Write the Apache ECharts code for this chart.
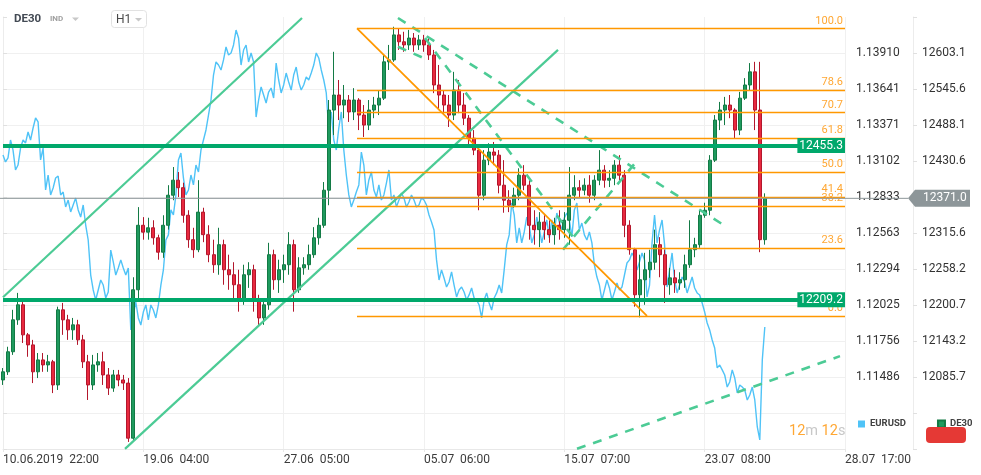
<!DOCTYPE html>
<html><head><meta charset="utf-8">
<script src="https://cdn.jsdelivr.net/npm/echarts@6/dist/echarts.min.js"></script>
<style>html,body{margin:0;padding:0;background:#fff}#c{width:981px;height:475px}</style>
</head><body><div id="c"></div>
<script>
// ---- tick labels ----
const xTickLabels = ['10.06.2019  22:00','19.06  04:00','27.06  05:00','05.07  06:00','15.07  07:00','23.07  08:00','28.07  17:00'];
const eurTicks = ['1.11486','1.11756','1.12025','1.12294','1.12563','1.12833','1.13102','1.13371','1.13641','1.13910'];
const deTicks = ['12085.7','12143.2','12200.7','12258.2','12315.6','12373.1','12430.6','12488.1','12545.6','12603.1'];

// ---- EURUSD (read at each bar index) ----
const eurusd = [1.13147,1.13125,1.13184,1.13072,1.13259,1.13319,1.13349,1.13394,1.13199,1.12997,
1.12900,1.12990,1.12870,1.12810,1.12773,1.12736,1.12773,1.12511,1.12137,1.12137,
1.12174,1.12122,1.12347,1.12302,1.12302,1.12302,1.11950,1.11928,1.11972,1.11913,
1.11987,1.12025,1.12287,1.12549,1.12698,1.13110,1.12975,1.12885,1.12923,1.13020,
1.13259,1.13446,1.13745,1.13820,1.13858,1.13895,1.13970,1.14022,1.13932,1.13843,
1.13843,1.13558,1.13596,1.13618,1.13573,1.13708,1.13671,1.13693,1.13745,1.13693,
1.13671,1.13708,1.13820,1.13873,1.13708,1.13334,1.13259,1.13349,1.13184,1.12848,
1.12810,1.12923,1.13072,1.12960,1.12885,1.12923,1.12848,1.13035,1.12848,1.12810,
1.12825,1.12795,1.12810,1.12773,1.12810,1.12698,1.12586,1.12212,1.12227,1.12197,
1.12174,1.12137,1.12122,1.12100,1.12077,1.12025,1.12062,1.12040,1.12077,1.12174,
1.12287,1.12549,1.12698,1.12601,1.12571,1.12623,1.12549,1.12601,1.12571,1.12526,
1.12571,1.12646,1.12676,1.12661,1.12736,1.12586,1.12549,1.12571,1.12324,1.12174,
1.12137,1.12152,1.12122,1.12137,1.12249,1.12362,1.12376,1.12347,1.12362,1.12174,
1.12698,1.12586,1.12474,1.12287,1.12212,1.12174,1.12197,1.12174,1.12152,1.12100,
1.11972,1.11838,1.11703,1.11576,1.11501,1.11449,1.11479,1.11426,1.11389,1.11351,
1.11314,1.11015,1.11860];
// EURUSD swing extremes read half-way between bar indices
const eurusdMid = [1.13095,1.13259,1.13035,1.13199,1.13237,1.13259,1.13424,1.13110,1.12885,1.12848,
1.12975,1.12848,1.12758,1.12721,1.12825,1.12683,1.12623,1.12249,1.12062,1.12212,
1.12077,1.12436,1.12249,1.12362,1.12249,1.11838,1.12047,1.11875,1.12025,1.12025,
1.11928,1.12174,1.12511,1.12736,1.12848,1.13162,1.12848,1.12997,1.13072,1.13184,
1.13334,1.13558,1.13843,1.13783,1.13955,1.13910,1.14082,1.13820,1.13970,1.13910,
1.13431,1.13656,1.13536,1.13648,1.13835,1.13611,1.13760,1.13633,1.13805,1.13633,
1.13731,1.13760,1.13910,1.13783,1.13611,1.13469,1.13184,1.13469,1.12997,1.12758,
1.12870,1.13169,1.12848,1.13020,1.12833,1.12810,1.12937,1.12810,1.12758,1.12863,
1.12758,1.12848,1.12758,1.12825,1.12773,1.12646,1.12362,1.12287,1.12159,1.12272,
1.12085,1.12159,1.12062,1.12152,1.12062,1.11928,1.12115,1.11987,1.12115,1.12115,
1.12474,1.12788,1.12489,1.12489,1.12683,1.12489,1.12683,1.12489,1.12661,1.12661,
1.12713,1.12586,1.12713,1.12534,1.12788,1.12638,1.12511,1.12489,1.12234,1.12062,
1.12212,1.12062,1.12189,1.12159,1.12339,1.12414,1.12287,1.12414,1.12085,1.12489,
1.12489,1.12661,1.12159,1.12414,1.12115,1.12234,1.12115,1.12234,1.12115,1.12040,
1.11890,1.11763,1.11554,1.11539,1.11411,1.11539,1.11367,1.11411,1.11314,1.11411,
1.11112,1.11614];

// ---- DE30 candles [open, close, low, high] ----
const de30 = [
[12081,12094,12073,12100],[12094,12126,12089,12134],[12126,12177,12121,12193],[12177,12201,12169,12220],[12201,12153,12140,12209],
[12153,12137,12118,12156],[12137,12094,12076,12145],[12094,12113,12084,12124],[12113,12105,12094,12124],[12105,12110,12094,12121],
[12110,12073,12060,12113],[12073,12193,12065,12198],[12193,12177,12153,12204],[12177,12161,12145,12185],[12161,12169,12145,12180],
[12169,12145,12137,12177],[12145,12110,12100,12153],[12110,12073,12049,12121],[12073,12105,12065,12121],[12105,12110,12094,12124],
[12110,12089,12073,12126],[12089,12068,12057,12100],[12068,12089,12062,12097],[12089,12081,12071,12097],[12081,12076,12065,12089],
[12076,11988,11982,12084],[11988,12225,11985,12245],[12225,12328,12209,12357],[12328,12317,12305,12341],[12317,12324,12305,12340],
[12324,12308,12297,12336],[12308,12285,12273,12313],[12285,12328,12276,12344],[12328,12376,12321,12392],[12376,12400,12368,12421],
[12400,12388,12373,12413],[12388,12344,12332,12396],[12344,12305,12292,12352],[12305,12289,12276,12324],[12289,12349,12285,12400],
[12349,12313,12301,12356],[12313,12281,12269,12328],[12281,12265,12252,12305],[12265,12297,12249,12324],[12297,12257,12233,12305],
[12257,12249,12225,12281],[12249,12233,12209,12269],[12233,12209,12190,12257],[12209,12249,12201,12265],[12249,12257,12228,12269],
[12257,12209,12190,12265],[12209,12180,12166,12217],[12180,12201,12169,12209],[12201,12281,12193,12300],[12281,12241,12225,12289],
[12241,12257,12220,12273],[12257,12265,12236,12281],[12265,12297,12249,12317],[12297,12225,12190,12305],[12225,12260,12220,12277],
[12260,12265,12249,12277],[12265,12281,12257,12297],[12281,12308,12276,12325],[12308,12328,12297,12340],[12328,12384,12324,12397],
[12384,12512,12360,12528],[12512,12536,12472,12605],[12536,12520,12496,12560],[12520,12528,12499,12552],[12528,12509,12493,12536],
[12509,12528,12496,12547],[12528,12504,12480,12531],[12504,12488,12469,12520],[12488,12512,12480,12528],[12512,12520,12499,12533],
[12520,12531,12504,12544],[12531,12589,12528,12600],[12589,12592,12576,12616],[12592,12632,12589,12645],[12632,12621,12608,12643],
[12621,12616,12605,12637],[12616,12627,12608,12640],[12627,12616,12605,12635],[12616,12624,12608,12632],[12624,12616,12605,12632],
[12616,12600,12592,12629],[12600,12552,12539,12608],[12552,12536,12512,12584],[12536,12520,12504,12544],[12520,12504,12485,12536],
[12504,12544,12496,12573],[12544,12520,12507,12560],[12520,12499,12488,12539],[12499,12467,12456,12504],[12467,12448,12440,12480],
[12448,12376,12352,12456],[12376,12432,12368,12448],[12432,12445,12424,12459],[12445,12440,12424,12461],[12440,12392,12379,12448],
[12392,12368,12348,12432],[12368,12360,12349,12384],[12360,12376,12356,12388],[12376,12408,12368,12419],[12408,12392,12384,12424],
[12392,12328,12305,12400],[12328,12321,12297,12352],[12321,12333,12293,12349],[12333,12321,12305,12344],[12321,12313,12300,12336],
[12313,12328,12297,12340],[12328,12321,12305,12352],[12321,12336,12308,12349],[12336,12376,12297,12421],[12376,12388,12368,12408],
[12388,12384,12373,12400],[12384,12392,12376,12403],[12392,12376,12364,12408],[12376,12400,12368,12408],[12400,12416,12392,12448],
[12416,12400,12388,12424],[12400,12403,12389,12416],[12403,12424,12392,12432],[12424,12408,12400,12440],[12408,12328,12309,12416],
[12328,12289,12281,12336],[12289,12217,12198,12292],[12217,12241,12181,12281],[12241,12257,12201,12284],[12257,12269,12244,12289],
[12269,12297,12257,12321],[12297,12281,12245,12309],[12281,12233,12204,12289],[12233,12244,12217,12260],[12244,12236,12220,12257],
[12236,12241,12225,12253],[12241,12265,12228,12281],[12265,12289,12260,12336],[12289,12297,12277,12308],[12297,12344,12292,12352],
[12344,12352,12340,12364],[12352,12432,12344,12440],[12432,12496,12429,12504],[12496,12512,12480,12525],[12512,12520,12488,12533],
[12520,12512,12499,12536],[12512,12480,12467,12515],[12480,12531,12472,12541],[12531,12552,12528,12563],[12552,12573,12544,12587],
[12573,12512,12480,12589],[12512,12305,12285,12589],[12305,12371,12297,12379]
];

// ---- drawings (in bar index / DE30 price units) ----
const hLevels = [12455.3, 12209.2];
const lastPrice = 12371.0;
const fibLevels = [100, 78.6, 70.7, 61.8, 50, 41.4, 38.2, 23.6, 0];
const fibAnchor = [[70.63, 12642.6], [128.49, 12183.2]];
const channelLines = [
  [[0, 12213], [59.66, 12659]],
  [[24.34, 11971], [110.74, 12608]]
];
const dashedLines = [
  [[78.81, 12659], [144.06, 12327]],
  [[84.2, 12627], [114.1, 12305]],
  [[111.73, 12289], [126.3, 12429]],
  [[78.81, 12613], [84.8, 12592]],
  [[114.53, 11971], [167.0, 12119]]
];
const xMax = 168, xStep = 28;

const eurStep = (parseFloat(eurTicks[eurTicks.length-1]) - parseFloat(eurTicks[0])) / (eurTicks.length-1);
const deStep = (parseFloat(deTicks[deTicks.length-1]) - parseFloat(deTicks[0])) / (deTicks.length-1);
const kFirst = 2, kMax = 12;
const eurMin = parseFloat(eurTicks[0]) - kFirst*eurStep, eurMax = eurMin + kMax*eurStep;
const deMin = parseFloat(deTicks[0]) - kFirst*deStep, deMax = deMin + kMax*deStep;

const eurData = [];
eurusd.forEach((v, i) => {
  eurData.push([i, v]);
  if (i < eurusdMid.length) eurData.push([i + 0.5, eurusdMid[i]]);
});

const FONT = 'Roboto, sans-serif';
const GREEN_T = '#4ccb95';
const ml = [];
channelLines.forEach(l => ml.push([{coord: l[0], lineStyle: {color: GREEN_T, width: 2.2, type: 'solid'}}, {coord: l[1]}]));
dashedLines.forEach(l => ml.push([{coord: l[0], lineStyle: {color: GREEN_T, width: 2.6, type: [9, 8]}}, {coord: l[1]}]));
ml.push([{coord: fibAnchor[0], lineStyle: {color: '#ff9800', width: 1.8, type: 'solid'}}, {coord: fibAnchor[1]}]);
const fHigh = fibAnchor[0][1], fLow = fibAnchor[1][1];
fibLevels.forEach(f => {
  const v = fLow + (fHigh - fLow) * f / 100;
  ml.push([{coord: [fibAnchor[0][0], v], lineStyle: {color: '#ff9800', width: 1.3, type: 'solid'},
    label: {show: true, position: 'insideEndTop', formatter: f.toFixed(1), color: '#ffa733', fontSize: 11, fontFamily: FONT, distance: [2, 2]}},
    {coord: [xMax, v]}]);
});
hLevels.forEach(v => ml.push([{coord: [0, v], lineStyle: {color: '#00a86b', width: 4, type: 'solid'},
  label: {show: true, position: 'insideEnd', formatter: v.toFixed(1), color: '#fff', backgroundColor: '#00a86b',
    padding: [2, 2, 1, 2], fontSize: 12, fontFamily: FONT, distance: 0}}, {coord: [xMax, v]}]));

const chart = echarts.init(document.getElementById('c'));
chart.setOption({
  animation: false,
  textStyle: {fontFamily: FONT},
  grid: {left: 3, right: 136, top: 17, bottom: 26, outerBoundsMode: 'none'},
  legend: {
    data: [{name: 'EURUSD', icon: 'rect', itemStyle: {color: '#4fc3f7'}}, {name: 'DE30', icon: 'rect', itemStyle: {color: '#1f9a5e'}}],
    left: 853, top: 414, itemWidth: 7, itemHeight: 7, itemGap: 31, selectedMode: false,
    textStyle: {fontSize: 9.5, fontWeight: 'bold', color: '#424242', fontFamily: FONT}
  },
  xAxis: {
    type: 'value', min: 0, max: xMax, interval: xStep,
    axisLine: {show: true, lineStyle: {color: '#e8e8e8'}},
    axisTick: {show: true, length: 3, lineStyle: {color: '#e8e8e8'}},
    splitLine: {show: true, lineStyle: {color: '#f0f0f0'}},
    axisLabel: {align: 'left', margin: 5, fontSize: 12, color: '#3b3b3b', fontFamily: FONT,
      formatter: v => xTickLabels[Math.round(v / xStep)] || ''}
  },
  yAxis: [
    {type: 'value', position: 'right', min: 0, max: kMax, interval: 1,
      axisLine: {show: true, lineStyle: {color: '#ececec'}},
      axisTick: {show: true, length: 4, lineStyle: {color: '#e0e0e0'}},
      splitLine: {show: true, showMaxLine: false, lineStyle: {color: '#f0f0f0'}},
      axisLabel: {margin: 11, fontSize: 12, color: '#333', fontFamily: FONT,
        formatter: v => eurTicks[Math.round(v) - kFirst] || ''}},
    {type: 'value', position: 'right', offset: 68, min: 0, max: kMax, interval: 1,
      axisLine: {show: true, lineStyle: {color: '#ececec'}},
      axisTick: {show: true, length: 4, lineStyle: {color: '#e0e0e0'}},
      splitLine: {show: false},
      axisLabel: {margin: 9, fontSize: 12, color: '#333', fontFamily: FONT,
        formatter: v => deTicks[Math.round(v) - kFirst] || ''}},
    {type: 'value', show: false, min: eurMin, max: eurMax, splitLine: {show: false}},
    {type: 'value', show: false, min: deMin, max: deMax, splitLine: {show: false}}
  ],
  series: [
    {name: 'EURUSD', type: 'line', yAxisIndex: 2, showSymbol: false, silent: true, z: 2,
      data: eurData,
      lineStyle: {color: '#4fc3f7', width: 1.4}, itemStyle: {color: '#4fc3f7'}},
    {name: 'DE30', type: 'candlestick', yAxisIndex: 3, silent: true, z: 3, barWidth: 3.5,
      data: de30.map((d, i) => [i, d[0], d[1], d[2], d[3]]),
      encode: {x: 0, y: [1, 2, 3, 4]},
      itemStyle: {color: '#1f9a5e', color0: '#e8293f', borderColor: '#137a45', borderColor0: '#b3172c', borderWidth: 1},
      markLine: {silent: true, symbol: ['none', 'none'], animation: false, label: {show: false},
        emphasis: {disabled: true}, data: ml}}
  ]
});

const py = chart.convertToPixel({yAxisIndex: 3}, lastPrice);
chart.setOption({
  graphic: [
    {type: 'line', z: 50, shape: {x1: 0, y1: py, x2: 908, y2: py}, style: {stroke: '#8d9699', lineWidth: 1}},
    {type: 'polygon', z: 51, shape: {points: [[908, py], [915, py - 8.5], [970, py - 8.5], [970, py + 8.5], [915, py + 8.5]]}, style: {fill: '#8d9699'}},
    {type: 'text', z: 52, style: {text: lastPrice.toFixed(1), x: 923, y: py, verticalAlign: 'middle', fill: '#fff', font: '12px ' + FONT}},
    {type: 'text', z: 60, style: {text: 'DE30', x: 14, y: 19, verticalAlign: 'middle', fill: '#434a54', font: 'bold 11.5px ' + FONT}},
    {type: 'text', z: 60, style: {text: 'IND', x: 50, y: 19, verticalAlign: 'middle', fill: '#a0a0a0', font: 'bold 8px ' + FONT}},
    {type: 'polygon', z: 60, shape: {points: [[72, 17.5], [79, 17.5], [75.5, 21]]}, style: {fill: '#c8c8c8'}},
    {type: 'rect', z: 60, shape: {x: 111.5, y: 10.5, width: 35, height: 17, r: 3}, style: {fill: '#fff', stroke: '#e2e2e2', lineWidth: 1}},
    {type: 'text', z: 61, style: {text: 'H1', x: 116, y: 19.5, verticalAlign: 'middle', fill: '#4a4a4a', font: '12px ' + FONT}},
    {type: 'polygon', z: 61, shape: {points: [[135, 18], [142, 18], [138.5, 21.5]]}, style: {fill: '#c8c8c8'}},
    {type: 'text', z: 60, style: {text: '{a|12}{b|m} {a|12}{b|s}', x: 789, y: 431, verticalAlign: 'middle', font: '14.5px ' + FONT,
      rich: {a: {fill: '#ffa733', font: '14.5px ' + FONT}, b: {fill: '#c8c8c8', font: '14.5px ' + FONT}}}},
    {type: 'rect', z: 60, shape: {x: 926, y: 427, width: 40, height: 16, r: 4}, style: {fill: '#e53935'}}
  ]
});
</script>
</body></html>
